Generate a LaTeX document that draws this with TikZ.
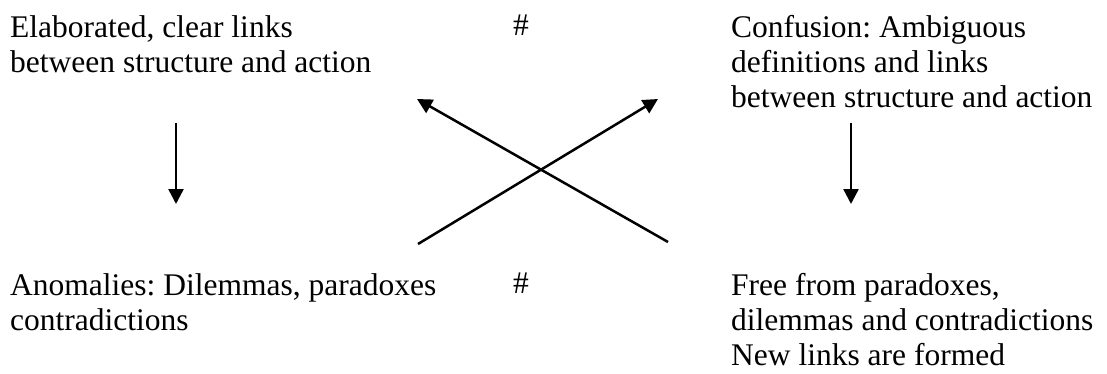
\documentclass[tikz,border=0pt]{standalone}
\usepackage{fontspec}
\setmainfont{Liberation Serif}
\usetikzlibrary{positioning,arrows.meta}

\tikzset{
  phase/.style={anchor=north west,align=left,inner sep=0pt,font=\fontsize{31.5}{35}\selectfont\frenchspacing},
  link/.style={-{Triangle[length=15pt,width=15pt]},line width=2.5pt}
}

\begin{document}
\begin{tikzpicture}[x=1pt,y=-1pt]
\useasboundingbox (0,0) rectangle (1107,374);

\node[phase] (elab) at (10,15) {Elaborated, clear links\\between structure and action};
\node[phase] (hash1) at (513,15) {\#};
\node[phase] (conf) at (731,15) {Confusion: Ambiguous\\definitions and links\\between structure and action};

\node[phase] (anom) at (10,273) {Anomalies: Dilemmas, paradoxes\\contradictions};
\node[phase] (hash2) at (513,273) {\#};
\node[phase] (free) at (731,273) {Free from paradoxes,\\dilemmas and contradictions\\New links are formed};

% free ends of the connectors
\coordinate (elab down) at (176,123);
\coordinate (elab tip) at (176,204);
\coordinate (conf down) at (851,123);
\coordinate (conf tip) at (851,204);
\coordinate (cross a) at (418,244);
\coordinate (cross a tip) at (658,99);
\coordinate (cross b) at (668,242);
\coordinate (cross b tip) at (417,99);

\draw[link](elab down)--(elab tip);
\draw[link](conf down)--(conf tip);
\draw[link](cross a)--(cross a tip);
\draw[link](cross b)--(cross b tip);
\end{tikzpicture}
\end{document}
